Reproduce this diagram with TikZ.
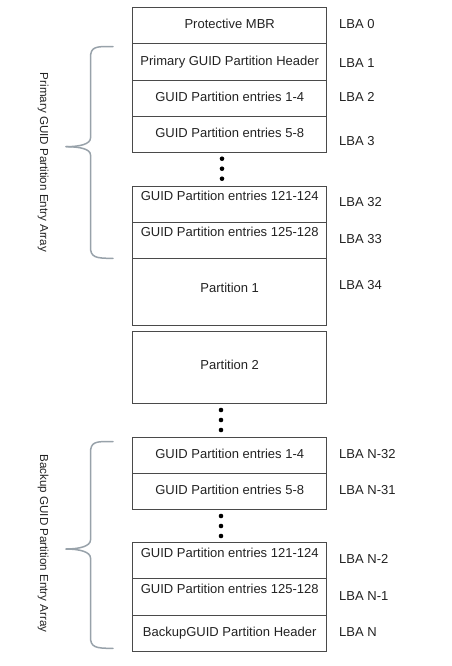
\documentclass[tikz,border=0pt]{standalone}
\usepackage{fontspec}
\setmainfont{Liberation Sans}
\definecolor{boxgray}{HTML}{4A4A4A}
\definecolor{bracegray}{HTML}{98A2AA}
\definecolor{textgray}{HTML}{222222}

\begin{document}
\begin{tikzpicture}[x=1pt,y=-1pt,
	blk/.style={draw=boxgray, line width=0.9pt},
	lbl/.style={text=textgray, font=\fontsize{13}{15}\selectfont, inner sep=0pt, anchor=base},
	lba/.style={lbl, anchor=base west},
	side/.style={text=textgray, font=\fontsize{11.6}{14}\selectfont, inner sep=0pt, rotate=-90},
	brc/.style={draw=bracegray, line width=1.5pt, line cap=round},
	dot/.style={fill=black}]
			%%%%% START %%%%%
			\useasboundingbox (0,0) rectangle (452,666);
			
			% primary area
			\draw[blk] (132.7,7.7) rectangle (326.7,43.7);
			\draw[blk] (132.7,43.7) rectangle (326.7,80);
			\draw[blk] (132.7,80) rectangle (326.7,116.7);
			\draw[blk] (132.7,116.7) rectangle (326.7,152.7);
			
			\node[lbl] (mbr) at (229.7,28.7) {Protective MBR};
			\node[lbl] (phdr) at (229.7,65.7) {Primary GUID Partition Header};
			\node[lbl] (pe1) at (229.7,101.4) {GUID Partition entries 1-4};
			\node[lbl] (pe5) at (229.7,137.7) {GUID Partition entries 5-8};
			
			\fill[dot] (222,158.7) circle (2.3);
			\fill[dot] (222,168.7) circle (2.3);
			\fill[dot] (222,178.7) circle (2.3);
			
			\draw[blk] (132.7,186) rectangle (326.7,222);
			\draw[blk] (132.7,222) rectangle (326.7,258.3);
			\draw[blk] (132.7,258.3) rectangle (326.7,325.3);
			
			\node[lbl] (pe121) at (229.7,200.4) {GUID Partition entries 121-124};
			\node[lbl] (pe125) at (229.7,236.4) {GUID Partition entries 125-128};
			\node[lbl] (part1) at (229.7,292) {Partition 1};
			
			\node[lba] (lba0) at (339,28.7) {LBA 0};
			\node[lba] (lba1) at (339,67.4) {LBA 1};
			\node[lba] (lba2) at (339,101.4) {LBA 2};
			\node[lba] (lba3) at (339,145.7) {LBA 3};
			\node[lba] (lba32) at (339,206.7) {LBA 32};
			\node[lba] (lba33) at (339,243) {LBA 33};
			\node[lba] (lba34) at (339,289.7) {LBA 34};
			
			\draw[brc] (113,46.7) .. controls (95,46) and (90.5,47) .. (90.5,58) -- (90.5,138) .. controls (90.5,144) and (80,146.7) .. (66,146.7);
			\draw[brc] (66,146.7) .. controls (80,146.7) and (90.5,149) .. (90.5,155) -- (90.5,247) .. controls (90.5,257) and (95,258.5) .. (113,258.3);
			\node[side] (primary) at (43,162.5) {Primary GUID Partition Entry Array};
			
			% partition 2
			\draw[blk] (132.7,331) rectangle (326.7,403);
			\node[lbl] (part2) at (229.7,369.7) {Partition 2};
			
			\fill[dot] (221,410) circle (2.3);
			\fill[dot] (221,420) circle (2.3);
			\fill[dot] (221,430) circle (2.3);
			
			% backup area
			\draw[blk] (132.7,437.3) rectangle (326.7,473.3);
			\draw[blk] (132.7,473.3) rectangle (326.7,509.3);
			
			\node[lbl] (be1) at (229.7,458.4) {GUID Partition entries 1-4};
			\node[lbl] (be5) at (229.7,494.7) {GUID Partition entries 5-8};
			
			\fill[dot] (221,516) circle (2.3);
			\fill[dot] (221,526) circle (2.3);
			\fill[dot] (221,536) circle (2.3);
			
			\draw[blk] (132.7,542.7) rectangle (326.7,578.7);
			\draw[blk] (132.7,578.7) rectangle (326.7,615);
			\draw[blk] (132.7,615) rectangle (326.7,651.3);
			
			\node[lbl] (be121) at (229.7,557) {GUID Partition entries 121-124};
			\node[lbl] (be125) at (229.7,593.4) {GUID Partition entries 125-128};
			\node[lbl] (bhdr) at (229.7,636.4) {BackupGUID Partition Header};
			
			\node[lba] (lban32) at (339,458.7) {LBA N-32};
			\node[lba] (lban31) at (339,494.7) {LBA N-31};
			\node[lba] (lban2) at (339,563.7) {LBA N-2};
			\node[lba] (lban1) at (339,600.4) {LBA N-1};
			\node[lba] (lban) at (339,636.4) {LBA N};
			
			\draw[brc] (113,441.7) .. controls (95,441) and (90.5,442) .. (90.5,453) -- (90.5,540) .. controls (90.5,546) and (80,549) .. (66,549);
			\draw[brc] (66,549) .. controls (80,549) and (90.5,552) .. (90.5,558) -- (90.5,637) .. controls (90.5,647) and (95,648.5) .. (113,648.3);
			\node[side] (backup) at (43,543.5) {Backup GUID Partition Entry Array};
			
			%%%%% END %%%%%
\end{tikzpicture}
\end{document}
